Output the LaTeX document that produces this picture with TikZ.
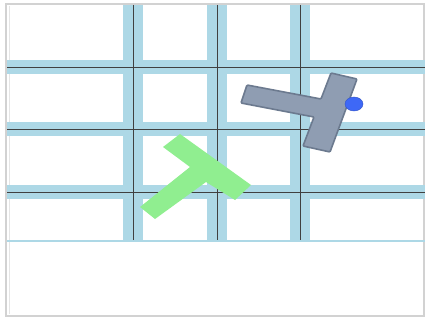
\documentclass[tikz,border=0pt]{standalone}
\usepackage{xcolor}
\usepackage{tikz}
\usetikzlibrary{calc}
\definecolor{tileblue}{RGB}{173,216,230}
\definecolor{goalgreen}{RGB}{144,238,144}
\definecolor{blockgray}{RGB}{143,157,178}
\definecolor{blockedge}{RGB}{108,122,143}
\definecolor{agentblue}{RGB}{62,104,246}

\begin{document}
\begin{tikzpicture}[x=1pt, y=-1pt,
    vband/.style={tileblue, line width=20pt},
    hband/.style={tileblue, line width=14pt},
    gridline/.style={black!75, line width=0.8pt},
    goal/.style={fill=goalgreen, draw=none},
    block/.style={fill=blockgray, draw=blockedge, line width=1.6pt, rounded corners=1pt},
    agent/.style={fill=agentblue, draw=agentblue!80!black, line width=0.4pt}]
    \useasboundingbox (0,0) rectangle (425,323);
    \fill[white] (0,0) rectangle (425,323);
    \draw[gray!35, line width=2pt] (6,4) rectangle (424,316);
    \draw[gray!20, line width=1pt] (9,6) -- (9,314);
    % tiles
    \foreach \y in {67,129,192}
        \draw[hband] (7,\y) -- (425,\y);
    \foreach \x in {133,217,300}
        \draw[vband] (\x,5) -- (\x,241);
    \draw[tileblue, line width=1.6pt] (7,241) -- (425,241);
    \foreach \y in {67,129,192}
        \draw[gridline] (7,\y) -- (425,\y);
    \foreach \x in {133,217,300}
        \draw[gridline] (\x,5) -- (\x,240);
    % target T
    \fill[goal] (180,134) -- (251,185) -- (235,200) -- (206,182)
        -- (155,219) -- (140,207) -- (190,167) -- (163,147) -- cycle;
    % pushed T
    \draw[block] (331,73) -- (357,79) -- (330,152) -- (303,146)
        -- (314,117) -- (241,103) -- (247,85) -- (321,99) -- cycle;
    % agent
    \draw[agent] (354,104) ellipse [x radius=9, y radius=7];
\end{tikzpicture}
\end{document}
